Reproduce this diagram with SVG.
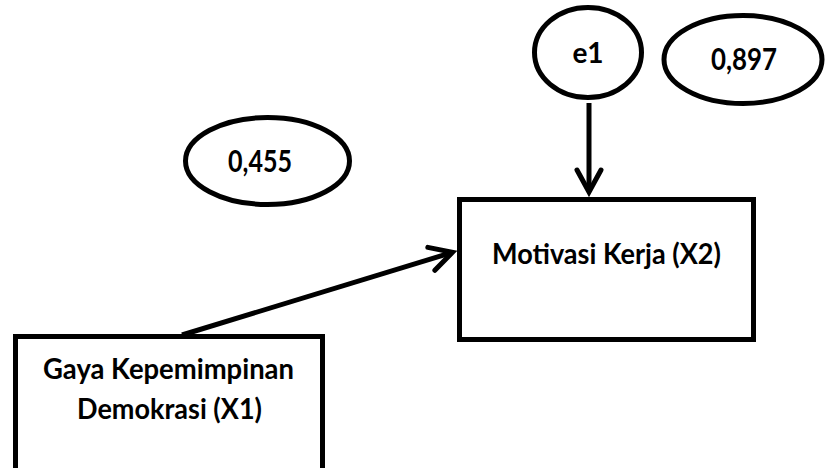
<svg xmlns="http://www.w3.org/2000/svg" width="826" height="468" viewBox="0 0 826 468">
<style>
.sh{fill:#fff;stroke:#000;stroke-width:5}
.t{font-family:Lato,"Liberation Sans",sans-serif;font-weight:bold;fill:#000;text-anchor:middle}
.c{stroke:#000;stroke-width:5;fill:none}
</style>
<defs>
<marker id="ah" markerUnits="userSpaceOnUse" markerWidth="40" markerHeight="40" viewBox="-30 -20 40 40" refX="0" refY="0" orient="auto" overflow="visible">
<path d="M-22,-12 L0,0 L-22,12" fill="none" stroke="#000" stroke-width="5" stroke-linejoin="miter" stroke-linecap="round"/>
</marker>
</defs>
<rect width="826" height="468" fill="#fff"/>
<g id="connectors">
<line class="c" x1="589" y1="103" x2="589" y2="192" marker-end="url(#ah)"/>
<line class="c" x1="182" y1="335" x2="452.4" y2="252.4" marker-end="url(#ah)"/>
</g>
<g id="e1">
<ellipse class="sh" cx="588" cy="52.5" rx="53.5" ry="45"/>
<text class="t" x="588" y="63" font-size="28">e1</text>
</g>
<g id="r2">
<ellipse class="sh" cx="743" cy="59.5" rx="79" ry="44"/>
<text class="t" x="744" y="70" font-size="30" textLength="66" lengthAdjust="spacingAndGlyphs">0,897</text>
</g>
<g id="r1">
<ellipse class="sh" cx="267.5" cy="161" rx="82" ry="43.5"/>
<text class="t" x="260" y="172" font-size="30" textLength="64" lengthAdjust="spacingAndGlyphs">0,455</text>
</g>
<g id="x2">
<rect class="sh" x="459.5" y="199.5" width="294" height="140"/>
<text class="t" x="606.5" y="264" font-size="28" textLength="229" lengthAdjust="spacingAndGlyphs">Motivasi Kerja (X2)</text>
</g>
<g id="x1">
<rect class="sh" x="15.5" y="336.5" width="307" height="134"/>
<text class="t" x="168.5" y="379" font-size="28" textLength="251" lengthAdjust="spacingAndGlyphs">Gaya Kepemimpinan</text>
<text class="t" x="169.5" y="419" font-size="28" textLength="185" lengthAdjust="spacingAndGlyphs">Demokrasi (X1)</text>
</g>
</svg>
